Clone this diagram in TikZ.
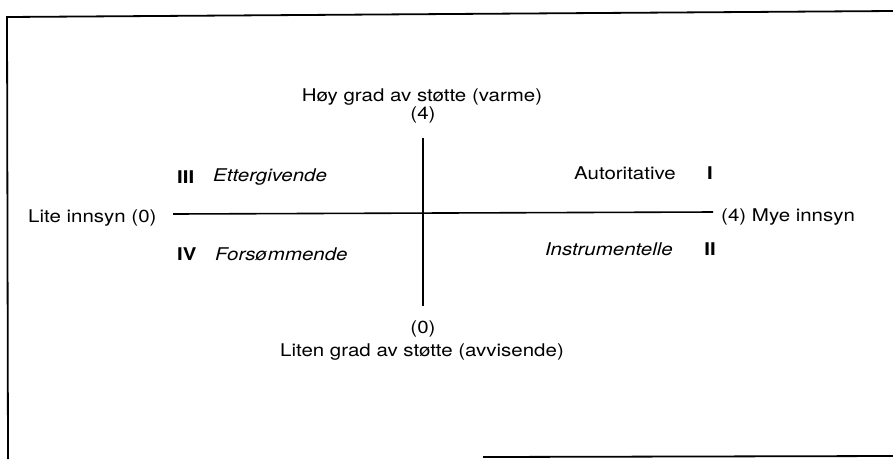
\documentclass[tikz,border=0pt]{standalone}
\usepackage{fontspec}
\setmainfont{TeX Gyre Heros}
\usepackage{tikz}
\tikzset{
  lbl/.style={font=\fontsize{17.5}{21}\selectfont,xscale=1.17,inner sep=0pt},
  roman/.style={lbl,font=\fontsize{17.5}{21}\selectfont\bfseries},
  slant/.style={lbl,font=\fontsize{17.5}{21}\selectfont\itshape},
  axis/.style={line width=1.6pt},
  frame/.style={line width=1.8pt}
}
\begin{document}
\begin{tikzpicture}[x=1pt,y=-1pt]
\useasboundingbox (0,0) rectangle (893,459);
% frame
\coordinate (fTL) at (7,17);
\coordinate (fTR) at (893,11);
\coordinate (fBL) at (8,459);
\coordinate (fBa) at (483,457);
\coordinate (fBb) at (893,456);
\draw[frame] (fBL) -- (fTL) -- (fTR);
\draw[frame] (fBa) -- (fBb);
% axes
\node[lbl] (hoy) at (422,97) {Høy grad av støtte (varme)};
\node[lbl] (four) at (423,115) {(4)};
\node[lbl] (zero) at (423,329) {(0)};
\node[lbl] (liten) at (422,352) {Liten grad av støtte (avvisende)};
\node[lbl,anchor=west] (lite) at (28,218) {Lite innsyn (0)};
\node[lbl,anchor=west] (mye) at (721,217) {(4) Mye innsyn};
\coordinate (vT) at (423,138);
\coordinate (vB) at (423,306);
\coordinate (hL) at (173,214);
\coordinate (hR) at (713,212);
\draw[axis] (vT) -- (vB);
\draw[axis] (hL) -- (hR);
% quadrants
\node[roman,anchor=west] (q3) at (177,177) {III};
\node[slant,anchor=west] (etter) at (213,177) {Ettergivende};
\node[lbl,anchor=east] (auto) at (676,173) {Autoritative};
\node[roman] (q1) at (710,173) {I};
\node[roman,anchor=west] (q4) at (177,254) {IV};
\node[slant,anchor=west] (fors) at (215,254) {Forsømmende};
\node[slant,anchor=east] (instr) at (673,249) {Instrumentelle};
\node[roman] (q2) at (710,249) {II};
\end{tikzpicture}
\end{document}
